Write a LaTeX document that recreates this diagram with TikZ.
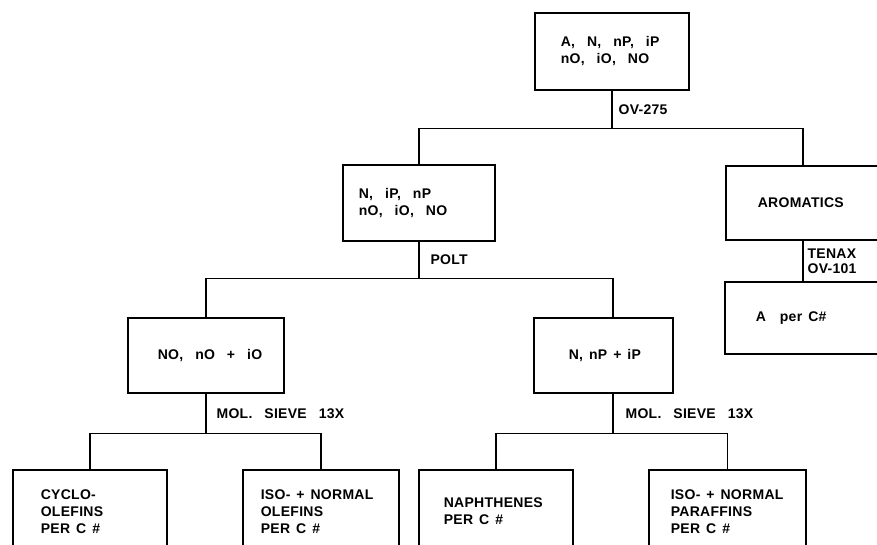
\documentclass[tikz,border=0pt]{standalone}
\usepackage{fontspec}
\setmainfont{Liberation Sans}[LetterSpace=2]
\newcommand\gap[1][12pt]{\kern#1}
\tikzset{
  stage/.style={draw=black,line width=1.6pt,anchor=north west,align=left,
                inner ysep=0pt,font=\bfseries\fontsize{14}{17}\selectfont},
  boxw/.code 2 args={\pgfmathsetmacro\boxtw{#1-2*#2}%
                     \pgfkeysalso{inner xsep=#2pt,text width=\boxtw pt}},
  phase/.style={anchor=west,align=left,inner sep=0pt,xshift=#1pt,
                font=\bfseries\fontsize{14}{15}\selectfont},
  phase/.default=8,
  link/.style={line width=1.6pt}
}
\begin{document}
\begin{tikzpicture}[x=1pt,y=-1pt]
  \path[use as bounding box] (0,0) rectangle (877,545);
  \clip (0,0) rectangle (877,545);

  % whole sample, split on OV-275
  \node[stage,boxw={154}{26},minimum height=77pt] (feed) at (534,12) {A,\gap N,\gap nP,\gap iP\\nO,\gap iO,\gap NO};
  \node[stage,boxw={152}{16},minimum height=76pt] (mix) at (342,164) {N,\gap iP,\gap nP\\nO,\gap iO,\gap NO};
  \node[stage,boxw={154}{32},minimum height=74pt] (arom) at (725,165) {AROMATICS};
  \draw[link] (feed.south) -- node[phase=6] (ov) {OV-275} ++(0,38) coordinate (s1);
  \draw[link] (s1) -| (mix.north);
  \draw[link] (s1) -| (arom.north);

  % aromatics per carbon number
  \node[stage,boxw={155}{31},minimum height=72pt] (aper) at (724,281) {A\gap[14pt]per\gap[6pt]C\#};
  \draw[link] (arom.south) -- node[phase=4] (tenax) {TENAX\\OV-101} (arom.south |- aper.north);

  % split on POLT
  \node[stage,boxw={156}{30},minimum height=75pt] (olef) at (127,317) {NO,\gap nO\gap +\gap iO};
  \node[stage,boxw={139}{35},minimum height=75pt] (par) at (533,317) {N,\gap[6pt]nP\gap[6pt]+\gap[6pt]iP};
  \draw[link] (mix.south) -- node[phase=11] (polt) {POLT} ++(0,37) coordinate (s2);
  \draw[link] (s2) -| (olef.north);
  \draw[link] (s2) -| ([xshift=9.5pt]par.north);

  % molecular sieve, olefins
  \node[stage,boxw={154}{28},minimum height=83pt] (cyclo) at (12,469) {CYCLO-\\OLEFINS\\PER\gap[6pt]C\gap[6pt]\#};
  \node[stage,boxw={156}{18},minimum height=83pt] (nolef) at (242,469) {\mbox{ISO-\gap[6pt]+\gap[6pt]NORMAL}\\OLEFINS\\PER\gap[6pt]C\gap[6pt]\#};
  \draw[link] (olef.south) -- node[phase=10] (sieve1) {MOL.\gap SIEVE\gap 13X} ++(0,40) coordinate (s3);
  \draw[link] (s3) -| (cyclo.north);
  \draw[link] (s3) -| (nolef.north);

  % molecular sieve, paraffins
  \node[stage,boxw={154}{25},minimum height=83pt] (naph) at (418,469) {NAPHTHENES\\PER\gap[6pt]C\gap[6pt]\#};
  \node[stage,boxw={157}{22},minimum height=83pt] (npar) at (648,469) {\mbox{ISO-\gap[6pt]+\gap[6pt]NORMAL}\\PARAFFINS\\PER\gap[6pt]C\gap[6pt]\#};
  \draw[link] ([xshift=9.5pt]par.south) -- node[phase=12] (sieve2) {MOL.\gap SIEVE\gap 13X} ++(0,40) coordinate (s4);
  \draw[link] (s4) -| (naph.north);
  \draw[link] (s4) -| (npar.north);
\end{tikzpicture}
\end{document}
